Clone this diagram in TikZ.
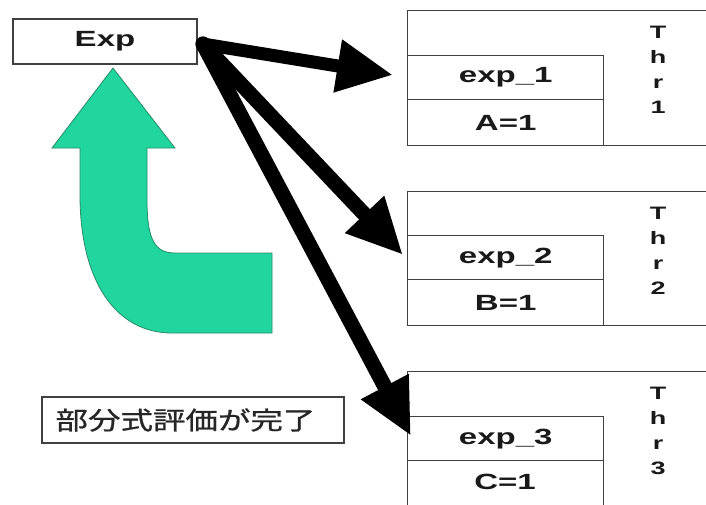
\documentclass[tikz,border=0pt]{standalone}
\usepackage{fontspec}
\setmainfont{Liberation Sans}
\newfontfamily\latinb{Liberation Sans}[FakeStretch=1.5]
\newfontfamily\cjk{Noto Sans CJK JP}[FakeStretch=1.3,FakeBold=0.8]
\usetikzlibrary{arrows.meta}
\definecolor{turq}{RGB}{32,214,158}
\definecolor{turqedge}{RGB}{40,140,105}
\begin{document}
\begin{tikzpicture}[x=1pt,y=-1pt,
  box/.style={draw=black!75,line width=1.4pt,inner sep=0pt,anchor=north west},
  lbl/.style={font=\latinb\bfseries\fontsize{22}{26}\selectfont,text=black!90},
  thrtxt/.style={font=\latinb\bfseries\fontsize{18}{25}\selectfont,align=center,text=black!90},
  bigarrow/.style={line width=13pt,line cap=round,-{Triangle[length=56pt,width=50pt]},black},
]
\clip (0,0) rectangle (706,504);
\fill[white] (0,0) rectangle (706,504);

% Exp box
\node[box,anchor=center,minimum width=184pt,minimum height=45pt,lbl] (exp) at (105,41.5) {Exp};

% Thread 1
\node[box,minimum width=320pt,minimum height=135pt] (thr1) at (407,10) {};
\node[box,minimum width=196pt,minimum height=44pt,lbl] (e1) at (407,55) {exp\_1};
\node[box,minimum width=196pt,minimum height=46pt,lbl] (a1) at (407,99) {A=1};
\node[thrtxt] (t1) at (658,70) {T\\h\\r\\1};

% Thread 2
\node[box,minimum width=320pt,minimum height=134pt] (thr2) at (407,191) {};
\node[box,minimum width=196pt,minimum height=44pt,lbl] (e2) at (407,235) {exp\_2};
\node[box,minimum width=196pt,minimum height=46pt,lbl] (b2) at (407,279) {B=1};
\node[thrtxt] (t2) at (658,251) {T\\h\\r\\2};

% Thread 3
\node[box,minimum width=320pt,minimum height=200pt] (thr3) at (407,371) {};
\node[box,minimum width=196pt,minimum height=44pt,lbl] (e3) at (407,416) {exp\_3};
\node[box,minimum width=196pt,minimum height=60pt] (c3) at (407,460) {};
\node[lbl] (c3t) at (505,482) {C=1};
\node[thrtxt] (t3) at (658,431) {T\\h\\r\\3};

% Japanese label
\node[box,anchor=center,minimum width=302pt,minimum height=46pt] (done) at (193,420) {};
\node[font=\cjk\fontsize{25}{30}\selectfont,anchor=west,text=black!85,inner sep=0pt] (donetxt) at ([xshift=14pt]done.west) {部分式評価が完了};

% Green curved arrow
\filldraw[fill=turq,draw=turqedge,line width=0.8pt]
  (113,68) -- (175,148) -- (147,148) -- (147,200)
  .. controls (147,240) and (155,253) .. (175,253)
  -- (272,253) -- (272,333) -- (172,333)
  .. controls (115,333) and (80,280) .. (80,195)
  -- (80,148) -- (52,148) -- cycle;

% Black arrows
\coordinate (src) at (203,44);
\coordinate (tip1) at (393,75);
\coordinate (tip2) at (403,255);
\coordinate (tip3) at (411,436);
\draw[bigarrow] (src) -- (tip1);
\draw[bigarrow,line width=15pt] (src) -- (tip2);
\draw[bigarrow,line width=15pt] (src) -- (tip3);
\end{tikzpicture}
\end{document}
